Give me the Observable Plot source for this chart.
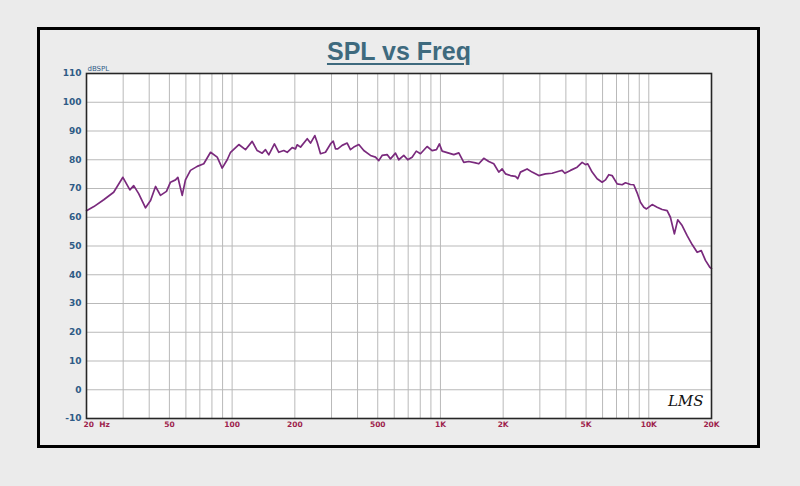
<!DOCTYPE html>
<html><head><meta charset="utf-8">
<script src="https://cdn.jsdelivr.net/npm/d3@7"></script>
<script src="https://cdn.jsdelivr.net/npm/@observablehq/plot@0.6"></script>
<style>
html,body{margin:0;padding:0;background:#ebebeb;}
#wrap{position:relative;width:800px;height:486px;background:#ebebeb;overflow:hidden;}
#frame{position:absolute;left:37px;top:27px;width:717px;height:415px;border:3.5px solid #000;background:#ececec;}
#title{position:absolute;left:0;width:798px;top:37px;text-align:center;font:bold 25px "Liberation Sans",Arial,sans-serif;color:#3e6a7e;text-decoration:underline;text-decoration-thickness:2px;text-underline-offset:3px;}
#chart{position:absolute;left:0;top:0;}
</style></head>
<body>
<div id="wrap"><div id="frame"></div><div id="title">SPL vs Freq</div><div id="chart"></div></div>
<script>
const freq = [20, 21.7, 24.2, 27.0, 29.9, 32.3, 33.7, 35.6, 38.4, 40.6,
  42.9, 45.3, 48.4, 50.6, 53.5, 54.9, 57.6, 59.7, 63.1, 68.0,
  73.1, 78.8, 84.8, 89.6, 94.7, 98.3, 107.7, 115.9, 124.8, 131.9,
  139.4, 144.6, 150, 159.6, 167.5, 177, 183.8, 194.2, 201.4, 205.2,
  213, 229.4, 237.9, 249.4, 256, 265.6, 280.6, 296.6, 305.6, 313.4,
  321.4, 337.4, 356.6, 369.8, 383.8, 405.6, 428.6, 461.4, 487.6, 505.8,
  524.8, 554.6, 575.4, 608.2, 631, 666.8, 696.6, 731, 765.6, 801.8,
  863, 912, 957, 988.6, 1019, 1097, 1159, 1225, 1294, 1368,
  1472, 1528, 1614, 1706, 1803, 1906, 1977, 2052, 2168, 2291,
  2350, 2421, 2606, 2754, 2966, 3192, 3436, 3698, 3837, 3954,
  4208, 4530, 4788, 4968, 5094, 5346, 5650, 5972, 6198, 6428,
  6668, 7050, 7450, 7728, 8166, 8472, 8790, 9120, 9464, 9750,
  10380, 10966, 11590, 12250, 12700, 13270, 13770, 14460, 15280, 16150,
  17070, 17860, 18710, 19630, 20000];
const spl = [62.3, 63.7, 66.1, 68.7, 73.9, 69.5, 71.0, 68.2, 63.3, 65.8,
  70.7, 67.6, 69.0, 72.2, 73.0, 73.9, 67.6, 73.0, 76.3, 77.7,
  78.6, 82.6, 80.9, 77.1, 80.0, 82.6, 85.3, 83.5, 86.4, 83.2,
  82.3, 83.5, 81.7, 85.5, 82.6, 83.2, 82.6, 84.2, 83.8, 85.2,
  84.4, 87.3, 85.8, 88.4, 86.1, 82.1, 82.6, 85.5, 86.5, 83.8,
  83.8, 85.0, 85.8, 83.5, 84.4, 85.3, 83.2, 81.5, 80.9, 79.7,
  81.5, 81.8, 80.3, 82.3, 80.0, 81.5, 80.0, 80.9, 83.0, 82.1,
  84.6, 83.2, 83.5, 85.5, 83.0, 82.3, 81.8, 82.4, 79.1, 79.4,
  78.9, 78.6, 80.5, 79.4, 78.6, 75.7, 76.8, 75.1, 74.5, 74.2,
  73.4, 75.7, 76.8, 75.7, 74.5, 75.1, 75.3, 76.0, 76.3, 75.3,
  76.3, 77.4, 79.1, 78.3, 78.6, 75.7, 73.4, 72.2, 73.0, 74.8,
  74.5, 71.6, 71.3, 72.0, 71.4, 71.3, 68.5, 65.2, 63.5, 62.9,
  64.4, 63.5, 62.7, 62.3, 60.0, 54.2, 59.1, 57.1, 53.6, 50.5,
  47.8, 48.4, 45.0, 42.6, 42.2];
const yTicks = [-10, 0, 10, 20, 30, 40, 50, 60, 70, 80, 90, 100, 110];
const xTickVals = [50, 100, 200, 500, 1000, 2000, 5000, 10000, 20000];
const xTickLabels = ["50", "100", "200", "500", "1K", "2K", "5K", "10K", "20K"];
const xFirst = [20];
const xFirstLabel = ["20\u00a0\u00a0Hz"];
const gridFreqs = [20, 30, 40, 50, 60, 70, 80, 90,
  100, 200, 300, 400, 500, 600, 700, 800, 900,
  1000, 2000, 3000, 4000, 5000, 6000, 7000, 8000, 9000,
  10000, 20000];
const unitLabel = ["dBSPL"];
const logoLabel = ["LMS"];

const data = freq.map((f, i) => ({f, db: spl[i]}));
const xColor = "#9e1f4c", yColor = "#2f5b86";

const chart = Plot.plot({
  width: 800, height: 486,
  marginLeft: 86, marginRight: 89, marginTop: 73, marginBottom: 68,
  style: {background: "transparent", overflow: "visible", fontFamily: "'DejaVu Sans', Verdana, sans-serif"},
  x: {type: "log", domain: [20, 20000], axis: null},
  y: {domain: [-10, 110], axis: null},
  marks: [
    Plot.frame({fill: "white"}),
    Plot.ruleX(gridFreqs, {stroke: "#b9b9b9", strokeWidth: 1}),
    Plot.ruleY(yTicks, {stroke: "#b9b9b9", strokeWidth: 1}),
    Plot.line(data, {x: "f", y: "db", stroke: "#7a2a7d", strokeWidth: 1.7, curve: "linear"}),
    Plot.frame({stroke: "#262626", strokeWidth: 1.6}),
    Plot.text(yTicks, {x: 20, y: d => d, text: d => String(d), textAnchor: "end", dx: -5, fill: yColor, fontSize: 9, fontWeight: "bold"}),
    Plot.text(xTickVals, {x: d => d, text: (d, i) => xTickLabels[i], frameAnchor: "bottom", dy: 8, fill: xColor, fontSize: 7.5, fontWeight: 600}),
    Plot.text(xFirst, {x: d => d, text: (d, i) => xFirstLabel[i], frameAnchor: "bottom", dy: 8, dx: -3, textAnchor: "start", fill: xColor, fontSize: 7.5, fontWeight: 600}),
    Plot.text(unitLabel, {frameAnchor: "top-left", text: d => d, dy: -7, dx: 1, textAnchor: "start", fill: yColor, fontSize: 7}),
    Plot.text(logoLabel, {frameAnchor: "bottom-right", text: d => d, dx: -8, dy: -13, fill: "#111", fontSize: 15, fontStyle: "italic", fontFamily: "'DejaVu Serif', serif"})
  ]
});
document.getElementById("chart").appendChild(chart);
</script>
</body></html>
